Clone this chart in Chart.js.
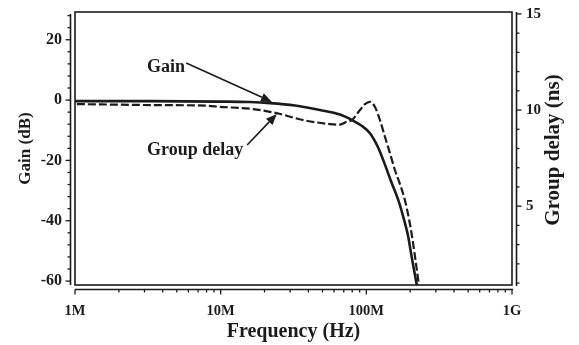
<!DOCTYPE html>
<html>
<head>
<meta charset="utf-8">
<title>Gain / Group delay</title>
<script src="https://cdn.jsdelivr.net/npm/chart.js@4.4.1/dist/chart.umd.min.js"></script>
<style>
  html,body{margin:0;padding:0;background:#fff;}
  #wrap{width:579px;height:345px;position:relative;}
</style>
</head>
<body>
<div id="wrap"><canvas id="gainChart"></canvas></div>
<script>
// frequencies in MHz
const xTicks = [1, 10, 100, 1000];
const xTickLabels = ['1M', '10M', '100M', '1G'];
const gainTicks = [-60, -40, -20, 0, 20];
const delayTicks = [5, 10, 15];

const gainFreq = [1, 3.27, 9.89, 15.9, 21.8, 32.4, 48.0, 65.9, 79.6, 93.3, 105.9, 120.7, 134.2, 147.5, 165.6, 179.2, 193.9, 204.6, 219.0, 223.6];
const gainDb   = [-0.33, -0.33, -0.5, -0.66, -1.0, -1.82, -3.31, -4.8, -6.6, -8.6, -11.0, -15.8, -21.4, -26.8, -33.1, -38.7, -45.3, -51.9, -59.7, -62];

const delayFreq = [1.03, 3.27, 7.8, 9.89, 16.7, 24.2, 36.7, 56.3, 66, 73.2, 79.6, 90.4, 97.8, 105.9, 114.5, 124.0, 134.2, 145.2, 157.1, 170.1, 184.1, 197.0, 207.9, 219.0, 228.6, 231];
const delayNs   = [10.31, 10.26, 10.23, 10.17, 10.05, 9.84, 9.48, 9.27, 9.24, 9.39, 9.48, 10.0, 10.31, 10.43, 10.17, 9.48, 8.61, 7.76, 6.88, 6.15, 5.31, 4.27, 3.23, 2.03, 0.99, 0.7];

const noteText  = ['Gain', 'Group delay'];
const noteAt    = [[3.12, 9.4], [3.12, -18.2]];
const arrowFrom = [[5.8, 12.3], [15.2, -14.9]];
const arrowTo   = [[22.5, -0.6], [24.3, -4.6]];

(function(){
  const INK = '#1b1b1b';
  const SERIF = "'Liberation Serif', 'Times New Roman', serif";

  function run(from, to, step){
    const a = [];
    for(let v = from; v <= to + 1e-9; v += step) a.push(v);
    return a;
  }

  function logMinors(min, max){
    const a = [];
    for(let d = min; d < max; d *= 10) for(let k = 2; k < 10; k++) a.push(d*k);
    return a;
  }

  function seg(ctx, x1, y1, x2, y2){
    ctx.beginPath(); ctx.moveTo(x1,y1); ctx.lineTo(x2,y2); ctx.stroke();
  }

  function arrow(ctx, x1, y1, x2, y2){
    const ang = Math.atan2(y2-y1, x2-x1), len = 11, w = 4.5;
    const bx = x2 - Math.cos(ang)*len, by = y2 - Math.sin(ang)*len;
    seg(ctx, x1, y1, bx, by);
    ctx.beginPath();
    ctx.moveTo(x2, y2);
    ctx.lineTo(bx + Math.sin(ang)*w, by - Math.cos(ang)*w);
    ctx.lineTo(bx - Math.sin(ang)*w, by + Math.cos(ang)*w);
    ctx.closePath();
    ctx.fill();
  }

  // no extra room for labels hanging over the ends, the plot box is fixed
  function noPad(s){ s.paddingTop = s.paddingBottom = s.paddingLeft = s.paddingRight = 0; }

  // frame around the plot + axis lines set a few px outside it, ticks pointing out
  const offsetAxes = {
    id:'offsetAxes',
    afterDraw(chart){
      const {ctx, chartArea:a, scales:{x, y, y1}} = chart;
      const gap = 4.5, big = 5, small = 3;
      const lx = a.left - gap, rx = a.right + gap, by = a.bottom + gap;
      ctx.save();
      ctx.strokeStyle = INK;
      ctx.lineWidth = 1.6;
      ctx.strokeRect(a.left, a.top, a.right - a.left, a.bottom - a.top);
      seg(ctx, lx, a.top + 2, lx, a.bottom);
      seg(ctx, rx, a.top, rx, a.bottom + 1);
      seg(ctx, a.left, by, a.right + 1, by);
      ctx.lineWidth = 1.3;
      run(-60, 28, 4).forEach(v=>{
        const p = y.getPixelForValue(v);
        seg(ctx, lx, p, lx - (gainTicks.includes(v) ? big : small), p);
      });
      run(1, 15, 1).forEach(v=>{
        const p = y1.getPixelForValue(v);
        seg(ctx, rx, p, rx + (delayTicks.includes(v) ? big : small), p);
      });
      xTicks.forEach(v=>{ const p = x.getPixelForValue(v); seg(ctx, p, by, p, by + big); });
      logMinors(1, 1000).forEach(v=>{ const p = x.getPixelForValue(v); seg(ctx, p, by, p, by + small); });

      // right title reads bottom-to-top like the left one
      ctx.fillStyle = INK;
      ctx.font = `bold 21px ${SERIF}`;
      ctx.textAlign = 'center';
      ctx.textBaseline = 'middle';
      ctx.translate(554, (a.top + a.bottom)/2 + 1.5);
      ctx.rotate(-Math.PI/2);
      ctx.fillText('Group delay (ns)', 0, 0);
      ctx.restore();
    }
  };

  const notes = {
    id:'notes',
    afterDatasetsDraw(chart){
      const {ctx, scales:{x, y}} = chart;
      ctx.save();
      ctx.fillStyle = INK;
      ctx.strokeStyle = INK;
      ctx.lineWidth = 1.6;
      ctx.font = `bold 18px ${SERIF}`;
      ctx.textAlign = 'left';
      ctx.textBaseline = 'alphabetic';
      noteText.forEach((t, i)=>{
        ctx.fillText(t, x.getPixelForValue(noteAt[i][0]), y.getPixelForValue(noteAt[i][1]));
        arrow(ctx,
          x.getPixelForValue(arrowFrom[i][0]), y.getPixelForValue(arrowFrom[i][1]),
          x.getPixelForValue(arrowTo[i][0]), y.getPixelForValue(arrowTo[i][1]));
      });
      ctx.restore();
    }
  };

  const pts = (xs, ys) => xs.map((v, i)=>({x:v, y:ys[i]}));
  const hidden = {grid:{display:false, drawTicks:false}, border:{display:false}};

  new Chart(document.getElementById('gainChart'), {
    type:'line',
    data:{
      datasets:[
        {label:'Gain', data:pts(gainFreq, gainDb), yAxisID:'y', borderColor:INK, borderWidth:2.6, pointRadius:0, cubicInterpolationMode:'monotone', fill:false},
        {label:'Group delay', data:pts(delayFreq, delayNs), yAxisID:'y1', borderColor:INK, borderWidth:2.2, borderDash:[8,3], pointRadius:0, cubicInterpolationMode:'monotone', fill:false}
      ]
    },
    options:{
      responsive:true,
      maintainAspectRatio:false,
      animation:false,
      events:[],
      layout:{padding:{top:12, left:0, right:0, bottom:0}},
      plugins:{legend:{display:false}, tooltip:{enabled:false}},
      scales:{
        x:{
          type:'logarithmic', min:1, max:1000, ...hidden,
          afterBuildTicks(s){ s.ticks = xTicks.map(v=>({value:v})); },
          afterFit(s){ s.height = 60; noPad(s); },
          ticks:{autoSkip:false, maxRotation:0, padding:18, color:INK, font:{family:SERIF, size:14.5, weight:'bold'},
            callback:(v, i)=>xTickLabels[i]},
          title:{display:true, text:'Frequency (Hz)', color:INK, font:{family:SERIF, size:20, weight:'bold'}, padding:{top:0, bottom:1}}
        },
        y:{
          position:'left', min:-61.3, max:29.2, ...hidden,
          afterBuildTicks(s){ s.ticks = gainTicks.map(v=>({value:v})); },
          afterFit(s){ s.width = 75; noPad(s); },
          ticks:{padding:13, color:INK, font:{family:SERIF, size:16, weight:'bold'}},
          title:{display:true, text:'Gain (dB)', color:INK, font:{family:SERIF, size:17, weight:'bold'}, padding:{top:15, bottom:0}}
        },
        y1:{
          position:'right', min:0.9, max:15.1, ...hidden,
          afterBuildTicks(s){ s.ticks = delayTicks.map(v=>({value:v})); },
          afterFit(s){ s.width = 67; noPad(s); },
          ticks:{padding:14, color:INK, font:{family:SERIF, size:15, weight:'bold'}}
        }
      }
    },
    plugins:[offsetAxes, notes]
  });
})();
</script>
</body>
</html>
